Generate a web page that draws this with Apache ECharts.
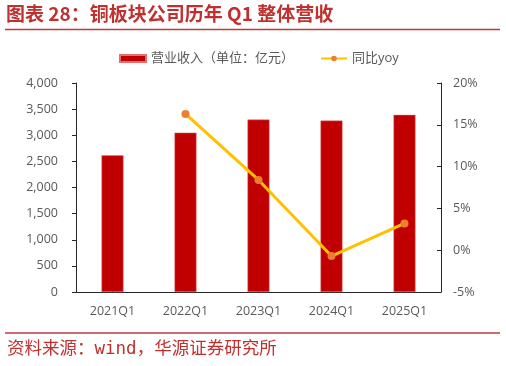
<!DOCTYPE html>
<html>
<head>
<meta charset="utf-8">
<script src="https://cdn.jsdelivr.net/npm/echarts@6/dist/echarts.min.js"></script>
<style>html,body{margin:0;padding:0;background:#fff}#c{width:506px;height:366px}</style>
</head>
<body>
<div id="c"></div>
<script>
var categories = ['2021Q1', '2022Q1', '2023Q1', '2024Q1', '2025Q1'];
var revenue = [2615, 3050, 3300, 3280, 3390];
var yoy = [null, 16.3, 8.4, -0.7, 3.2];
var leftTicks = [0, 4000, 500];
var rightTicks = [-5, 20, 5];
var titleText = '图表 28：铜板块公司历年 Q1 整体营收';
var sourceText = '资料来源：wind，华源证券研究所';
var barName = '营业收入（单位：亿元）';
var lineName = '同比yoy';

var chart = echarts.init(document.getElementById('c'), null, {renderer: 'canvas'});
var labelColor = '#595959';
var font = '"Open Sans", "Noto Sans CJK SC", sans-serif';
chart.setOption({
  animation: false,
  textStyle: {fontFamily: font},
  graphic: [
    {type: 'text', left: 6, top: 4, style: {text: titleText, fill: '#C0302F', font: 'bold 19px "Noto Sans CJK SC", sans-serif'}},
    {type: 'line', shape: {x1: 5, y1: 29.5, x2: 500, y2: 29.5}, style: {stroke: '#C0393B', lineWidth: 1.5}},
    {type: 'line', shape: {x1: 5, y1: 333, x2: 500, y2: 333}, style: {stroke: '#C0393B', lineWidth: 1.5}},
    {type: 'text', left: 7, top: 341, style: {text: sourceText, fill: '#C0302F', font: '17.5px "DejaVu Sans Mono", "Noto Sans CJK SC", monospace'}}
  ],
  legend: {
    left: 114, top: 47,
    itemWidth: 26, itemHeight: 7, itemGap: 26,
    textStyle: {color: labelColor, fontSize: 13, fontFamily: font},
    data: [{name: barName, icon: 'rect'}, {name: lineName}]
  },
  grid: {left: 76, right: 65, top: 83, bottom: 74},
  xAxis: {
    type: 'category', data: categories,
    axisLine: {lineStyle: {color: '#262626', width: 1}},
    axisTick: {show: true, alignWithLabel: true, inside: true, length: 3, lineStyle: {color: '#262626'}},
    axisLabel: {color: labelColor, fontSize: 12.5, margin: 13}
  },
  yAxis: [
    {
      type: 'value', min: leftTicks[0], max: leftTicks[1], interval: leftTicks[2],
      axisLine: {show: true, lineStyle: {color: '#262626'}},
      axisTick: {show: true, inside: false, length: 4, lineStyle: {color: '#262626'}},
      splitLine: {show: false},
      axisLabel: {color: labelColor, fontSize: 12.5, margin: 18,
        formatter: function (v) { return v.toLocaleString('en-US'); }}
    },
    {
      type: 'value', min: rightTicks[0], max: rightTicks[1], interval: rightTicks[2],
      position: 'right',
      axisLine: {show: true, lineStyle: {color: '#262626'}},
      axisTick: {show: true, inside: true, length: 4, lineStyle: {color: '#262626'}},
      splitLine: {show: false},
      axisLabel: {color: labelColor, fontSize: 12.5, margin: 12, formatter: '{value}%'}
    }
  ],
  series: [
    {
      name: barName, type: 'bar', data: revenue, barWidth: 22,
      itemStyle: {color: '#C00000', borderColor: '#E07070', borderWidth: 0.5}
    },
    {
      name: lineName, type: 'line', yAxisIndex: 1, data: yoy,
      symbol: 'circle', symbolSize: 8,
      lineStyle: {color: '#FFC000', width: 3},
      itemStyle: {color: '#ED7D31'}
    }
  ]
});
</script>
</body>
</html>
